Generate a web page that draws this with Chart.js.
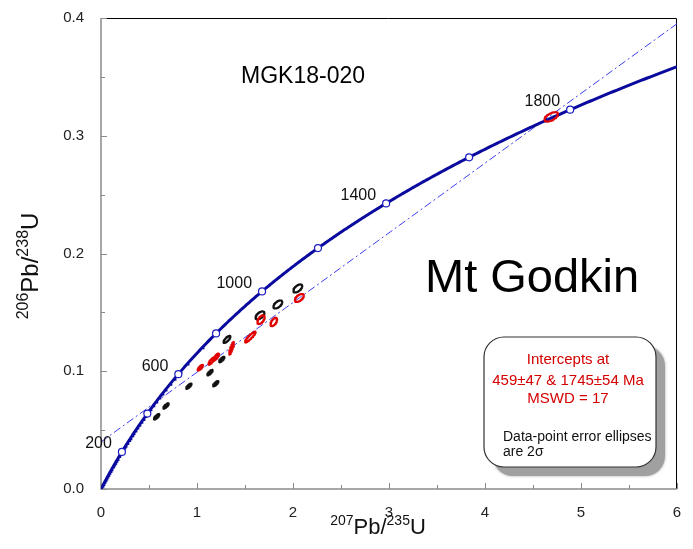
<!DOCTYPE html>
<html>
<head>
<meta charset="utf-8">
<script src="https://cdn.jsdelivr.net/npm/chart.js@4.4.1/dist/chart.umd.min.js"></script>
<style>
  body { margin: 0; background: #fff; }
  canvas { display: block; }
</style>
</head>
<body>
<canvas id="concordia" width="693" height="549"></canvas>
<script>
// decay constants, per Ma
const LAMBDA238 = 1.55125e-4;
const LAMBDA235 = 9.8485e-4;

// concordia age marks and which of them get a label
const markerAges = [200, 400, 600, 800, 1000, 1200, 1400, 1600, 1800];
const labelAges = [200, 600, 1000, 1400, 1800];

// discordia intercepts (Ma)
const lowerIntercept = 459;
const upperIntercept = 1745;

// spot analyses: 207Pb/235U, 206Pb/238U, 2-sigma errors, error correlation
const spotX   = [0.580, 0.677, 0.915, 1.135, 1.195, 1.258, 1.312, 1.656, 1.842, 2.050];
const spotY   = [0.0613, 0.0705, 0.0873, 0.0988, 0.0894, 0.1099, 0.1270, 0.1474, 0.1567, 0.1703];
const spotSX  = [0.028, 0.028, 0.028, 0.028, 0.028, 0.028, 0.036, 0.046, 0.046, 0.046];
const spotSY  = [0.0023, 0.0023, 0.0023, 0.0023, 0.0023, 0.0023, 0.0030, 0.0034, 0.0034, 0.0034];
const spotRho = [0.85, 0.85, 0.85, 0.85, 0.85, 0.85, 0.80, 0.60, 0.60, 0.60];

// spots used in the regression
const regX   = [1.035, 1.150, 1.200, 1.360, 1.555, 1.667, 1.800, 2.066, 4.690];
const regY   = [0.1030, 0.1085, 0.1120, 0.1195, 0.1290, 0.1438, 0.1418, 0.1622, 0.3160];
const regSX  = [0.028, 0.030, 0.030, 0.025, 0.055, 0.038, 0.034, 0.046, 0.070];
const regSY  = [0.0024, 0.0030, 0.0030, 0.0055, 0.0046, 0.0037, 0.0035, 0.0034, 0.0040];
const regRho = [0.85, 0.85, 0.85, 0.90, 0.92, 0.60, 0.60, 0.60, 0.60];

const X_MAX = 6;
const Y_MAX = 0.4;

function concordiaPoint(t) {
  return { x: Math.exp(LAMBDA235 * t) - 1, y: Math.exp(LAMBDA238 * t) - 1 };
}

// concordia curve up to the right edge of the plot
const tEnd = Math.log(1 + X_MAX) / LAMBDA235;
const concordiaCurve = [];
for (let t = 0; t < tEnd; t += 5) concordiaCurve.push(concordiaPoint(t));
concordiaCurve.push(concordiaPoint(tEnd));

// discordia through the two intercepts, extended across the plot
const p1 = concordiaPoint(lowerIntercept);
const p2 = concordiaPoint(upperIntercept);
const slope = (p2.y - p1.y) / (p2.x - p1.x);
const y0 = p1.y - slope * p1.x;
const discordia = [{ x: 0, y: y0 }, { x: X_MAX, y: y0 + slope * X_MAX }];

// error ellipse outline in data space
function ellipse(cx, cy, sx, sy, rho) {
  const pts = [];
  const k = Math.sqrt(1 - rho * rho);
  for (let i = 0; i <= 48; i++) {
    const a = (i / 48) * Math.PI * 2;
    pts.push({ x: cx + sx * Math.cos(a), y: cy + sy * (rho * Math.cos(a) + k * Math.sin(a)) });
  }
  return pts;
}

function ellipseDataset(points, color) {
  return {
    data: points, showLine: true, borderColor: color, borderWidth: 2.2,
    borderJoinStyle: 'round', borderCapStyle: 'round',
    pointRadius: 0, fill: false, tension: 0
  };
}

const ellipseSets = [];
regX.forEach((x, i) => {
  ellipseSets.push(ellipseDataset(ellipse(x, regY[i], regSX[i], regSY[i], regRho[i]), '#e00000'));
});
spotX.forEach((x, i) => {
  ellipseSets.push(ellipseDataset(ellipse(x, spotY[i], spotSX[i], spotSY[i], spotRho[i]), '#111'));
});

// frame, inward ticks and axis titles
const framePlugin = {
  id: 'frame',
  beforeDatasetsDraw(chart) {
    const { ctx, chartArea: a, scales: { x, y } } = chart;
    ctx.save();
    ctx.strokeStyle = '#000';
    ctx.lineWidth = 1;
    ctx.beginPath();
    ctx.moveTo(a.left, a.top + 0.5);
    ctx.lineTo(a.right - 0.5, a.top + 0.5);
    ctx.lineTo(a.right - 0.5, a.bottom);
    ctx.stroke();

    ctx.strokeStyle = '#8a8a8a';
    ctx.lineWidth = 1.5;
    ctx.beginPath();
    ctx.moveTo(a.left, a.top);
    ctx.lineTo(a.left, a.bottom);
    ctx.lineTo(a.right, a.bottom);
    ctx.stroke();

    ctx.lineWidth = 1;
    ctx.beginPath();
    for (let v = 0; v <= X_MAX + 1e-9; v += 0.5) {
      const px = Math.round(x.getPixelForValue(v)) + 0.5;
      const len = Math.abs(v - Math.round(v)) < 1e-9 ? 6 : 4;
      ctx.moveTo(px, a.bottom);
      ctx.lineTo(px, a.bottom - len);
    }
    for (let v = 0; v <= Y_MAX + 1e-9; v += 0.05) {
      const py = Math.round(y.getPixelForValue(v)) + 0.5;
      const major = Math.abs(v * 10 - Math.round(v * 10)) < 1e-6;
      ctx.moveTo(a.left, py);
      ctx.lineTo(a.left + (major ? 6 : 4), py);
    }
    ctx.stroke();
    ctx.restore();
  },
  afterDraw(chart) {
    const { ctx, scales: { x, y } } = chart;
    ctx.save();

    // axis titles with superscript mass numbers
    const drawIso = (parts, cx, cy, lift) => {
      let w = 0;
      parts.forEach(p => { ctx.font = p.f; w += ctx.measureText(p.t).width; });
      let px = cx - w / 2;
      ctx.textAlign = 'left';
      ctx.textBaseline = 'alphabetic';
      parts.forEach(p => {
        ctx.font = p.f;
        ctx.fillText(p.t, px, cy - (p.sup ? lift : 0));
        px += ctx.measureText(p.t).width;
      });
    };
    const font = s => s + 'px "Liberation Sans", Arial, sans-serif';
    ctx.fillStyle = '#111';
    drawIso([{ t: '207', f: font(14), sup: true }, { t: 'Pb/', f: font(22) },
             { t: '235', f: font(14), sup: true }, { t: 'U', f: font(22) }], 378, 534, 9);
    ctx.save();
    ctx.translate(38, 266);
    ctx.rotate(-Math.PI / 2);
    drawIso([{ t: '206', f: font(16), sup: true }, { t: 'Pb/', f: font(24) },
             { t: '238', f: font(16), sup: true }, { t: 'U', f: font(24) }], 0, 0, 10);
    ctx.restore();

    // age labels beside concordia marks
    ctx.font = font(16);
    ctx.fillStyle = '#111';
    ctx.textAlign = 'right';
    ctx.textBaseline = 'middle';
    labelAges.forEach(t => {
      const p = concordiaPoint(t);
      ctx.fillText(String(t), x.getPixelForValue(p.x) - 10, y.getPixelForValue(p.y) - 8);
    });

    // sample and locality names
    ctx.textAlign = 'left';
    ctx.textBaseline = 'alphabetic';
    ctx.fillStyle = '#000';
    ctx.font = font(23);
    ctx.fillText('MGK18-020', 241, 83);
    ctx.font = font(47);
    ctx.fillText('Mt Godkin', 425, 292);

    // results box with drop shadow
    const bx = 484, by = 337, bw = 172, bh = 130, r = 20;
    const rr = (ox, oy) => {
      ctx.beginPath();
      ctx.roundRect(bx + ox, by + oy, bw, bh, r);
    };
    ctx.save();
    ctx.shadowColor = 'rgba(0,0,0,0.35)';
    ctx.shadowBlur = 3;
    ctx.fillStyle = '#a0a0a0';
    rr(9, 9);
    ctx.fill();
    ctx.restore();
    ctx.fillStyle = '#fff';
    ctx.strokeStyle = '#333';
    ctx.lineWidth = 1.2;
    rr(0, 0);
    ctx.fill();
    ctx.stroke();

    ctx.fillStyle = '#d40000';
    ctx.font = font(15);
    ctx.textAlign = 'center';
    ctx.fillText('Intercepts at', 568, 364);
    ctx.fillText(lowerIntercept + '±47 & ' + upperIntercept + '±54 Ma', 568, 385);
    ctx.fillText('MSWD = 17', 568, 403);
    ctx.fillStyle = '#111';
    ctx.font = font(14);
    ctx.textAlign = 'left';
    ctx.fillText('Data-point error ellipses', 503, 441);
    ctx.fillText('are 2σ', 503, 456);
    ctx.restore();
  }
};

const tickFont = { family: '"Liberation Sans", Arial, sans-serif', size: 15 };

new Chart(document.getElementById('concordia'), {
  type: 'scatter',
  data: {
    datasets: [
      ...ellipseSets,
      {
        data: markerAges.map(concordiaPoint),
        pointRadius: 3.5, pointBackgroundColor: '#fff',
        pointBorderColor: '#1c1cc0', pointBorderWidth: 1.2
      },
      {
        data: concordiaCurve, showLine: true, borderColor: '#0a0a9e',
        borderWidth: 3, pointRadius: 0, tension: 0
      },
      {
        data: discordia, showLine: true, borderColor: '#3c3cf0',
        borderWidth: 1, borderDash: [8, 3, 2, 3], pointRadius: 0
      }
    ]
  },
  options: {
    responsive: false,
    animation: false,
    layout: { padding: { top: 12, right: 16, left: 0, bottom: 0 } },
    plugins: { legend: { display: false }, tooltip: { enabled: false } },
    scales: {
      x: {
        type: 'linear', min: 0, max: X_MAX,
        grid: { display: false }, border: { display: false },
        ticks: { stepSize: 1, padding: 7, color: '#222', font: tickFont },
        afterFit(s) { s.height = 60; }
      },
      y: {
        type: 'linear', min: 0, max: Y_MAX,
        grid: { display: false }, border: { display: false },
        ticks: { stepSize: 0.1, padding: 9, color: '#222', font: tickFont,
                 callback: v => v.toFixed(1) },
        afterFit(s) { s.width = 101; }
      }
    }
  },
  plugins: [framePlugin]
});
</script>
</body>
</html>
